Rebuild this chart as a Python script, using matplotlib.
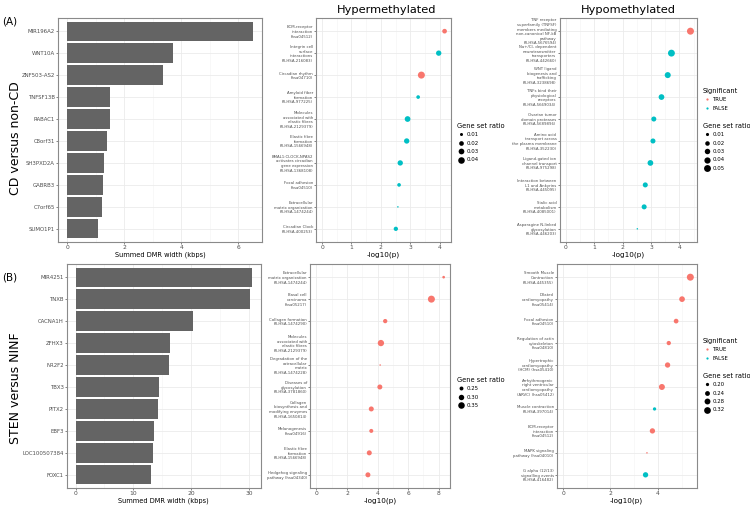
import numpy as np
import matplotlib
matplotlib.use("Agg")
import matplotlib.pyplot as plt
from matplotlib.lines import Line2D
from matplotlib.ticker import MultipleLocator

RED = "#F8766D"
CYAN = "#00BFC4"
BAR = "#646464"
GRID = "#EBEBEB"
TXT = "#4D4D4D"

W, H = 750, 505

# ---------------- (A) CD versus non-CD ----------------
cd_genes = ["MIR196A2", "WNT10A", "ZNF503-AS2", "TNFSF13B", "RABAC1",
            "C8orf31", "SH3PXD2A", "GABRB3", "C7orf65", "SUMO1P1"]
cd_width = [6.50, 3.70, 3.37, 1.51, 1.50, 1.38, 1.28, 1.26, 1.21, 1.08]

cd_hyper_terms = [
    "ECM-receptor\ninteraction\n(hsa04512)",
    "Integrin cell\nsurface\ninteractions\n(R-HSA-216083)",
    "Circadian rhythm\n(hsa04710)",
    "Amyloid fiber\nformation\n(R-HSA-977225)",
    "Molecules\nassociated with\nelastic fibres\n(R-HSA-2129379)",
    "Elastic fibre\nformation\n(R-HSA-1566948)",
    "BMAL1:CLOCK,NPAS2\nactivates circadian\ngene expression\n(R-HSA-1368108)",
    "Focal adhesion\n(hsa04510)",
    "Extracellular\nmatrix organization\n(R-HSA-1474244)",
    "Circadian Clock\n(R-HSA-400253)",
]
cd_hyper_logp = [4.17, 3.97, 3.38, 3.27, 2.91, 2.88, 2.66, 2.62, 2.58, 2.51]
cd_hyper_ratio = [0.020, 0.026, 0.046, 0.013, 0.030, 0.026, 0.026, 0.013, 0.007, 0.017]
cd_hyper_sig = [True, False, True, False, False, False, False, False, False, False]
cd_hyper_breaks = [0.01, 0.02, 0.03, 0.04]

cd_hypo_terms = [
    "TNF receptor\nsuperfamily (TNFSF)\nmembers mediating\nnon-canonical NF-kB\npathway\n(R-HSA-5676594)",
    "Na+/Cl- dependent\nneurotransmitter\ntransporters\n(R-HSA-442660)",
    "WNT ligand\nbiogenesis and\ntrafficking\n(R-HSA-3238698)",
    "TNFs bind their\nphysiological\nreceptors\n(R-HSA-5669034)",
    "Ovarian tumor\ndomain proteases\n(R-HSA-5689896)",
    "Amino acid\ntransport across\nthe plasma membrane\n(R-HSA-352230)",
    "Ligand-gated ion\nchannel transport\n(R-HSA-975298)",
    "Interaction between\nL1 and Ankyrins\n(R-HSA-445095)",
    "Sialic acid\nmetabolism\n(R-HSA-4085001)",
    "Asparagine N-linked\nglycosylation\n(R-HSA-446203)",
]
cd_hypo_logp = [4.39, 3.72, 3.59, 3.37, 3.10, 3.07, 2.98, 2.80, 2.76, 2.52]
cd_hypo_ratio = [0.052, 0.050, 0.037, 0.033, 0.025, 0.025, 0.033, 0.025, 0.025, 0.006]
cd_hypo_sig = [True, False, False, False, False, False, False, False, False, False]
cd_hypo_breaks = [0.01, 0.02, 0.03, 0.04, 0.05]

# ---------------- (B) STEN versus NINF ----------------
sten_genes = ["MIR4251", "TNXB", "CACNA1H", "ZFHX3", "NR2F2",
              "TBX3", "PITX2", "EBF3", "LOC100507384", "FOXC1"]
sten_width = [30.57, 30.17, 20.34, 16.30, 16.09, 14.43, 14.25, 13.50, 13.45, 13.10]

sten_hyper_terms = [
    "Extracellular\nmatrix organization\n(R-HSA-1474244)",
    "Basal cell\ncarcinoma\n(hsa05217)",
    "Collagen formation\n(R-HSA-1474290)",
    "Molecules\nassociated with\nelastic fibres\n(R-HSA-2129379)",
    "Degradation of the\nextracellular\nmatrix\n(R-HSA-1474228)",
    "Diseases of\nglycosylation\n(R-HSA-3781860)",
    "Collagen\nbiosynthesis and\nmodifying enzymes\n(R-HSA-1650814)",
    "Melanogenesis\n(hsa04916)",
    "Elastic fibre\nformation\n(R-HSA-1566948)",
    "Hedgehog signaling\npathway (hsa04340)",
]
sten_hyper_logp = [8.32, 7.52, 4.50, 4.22, 4.17, 4.15, 3.59, 3.59, 3.46, 3.37]
sten_hyper_ratio = [0.227, 0.375, 0.260, 0.338, 0.220, 0.283, 0.283, 0.252, 0.283, 0.283]
sten_hyper_sig = [True] * 10
sten_hyper_breaks = [0.25, 0.30, 0.35]

sten_hypo_terms = [
    "Smooth Muscle\nContraction\n(R-HSA-445355)",
    "Dilated\ncardiomyopathy\n(hsa05414)",
    "Focal adhesion\n(hsa04510)",
    "Regulation of actin\ncytoskeleton\n(hsa04810)",
    "Hypertrophic\ncardiomyopathy\n(HCM) (hsa05410)",
    "Arrhythmogenic\nright ventricular\ncardiomyopathy\n(ARVC) (hsa05412)",
    "Muscle contraction\n(R-HSA-397014)",
    "ECM-receptor\ninteraction\n(hsa04512)",
    "MAPK signaling\npathway (hsa04010)",
    "G alpha (12/13)\nsignalling events\n(R-HSA-416482)",
]
sten_hypo_logp = [5.37, 5.02, 4.77, 4.46, 4.41, 4.17, 3.86, 3.77, 3.54, 3.48]
sten_hypo_ratio = [0.335, 0.272, 0.236, 0.224, 0.257, 0.285, 0.201, 0.257, 0.185, 0.257]
sten_hypo_sig = [True, True, True, True, True, True, False, True, True, False]
sten_hypo_breaks = [0.20, 0.24, 0.28, 0.32]


def box(l, t, r, b):
    return [l / W, 1 - b / H, (r - l) / W, (b - t) / H]


def diam_pt(r, lo, hi):
    t = (np.asarray(r, dtype=float) - lo) / (hi - lo)
    t = np.clip(t, 0, 1)
    return (1.5 + 5.5 * np.sqrt(t)) * 0.72


def style(ax, major, minor):
    ax.set_facecolor("white")
    for s in ax.spines.values():
        s.set_color("#8a8a8a")
        s.set_linewidth(0.8)
    ax.xaxis.set_major_locator(MultipleLocator(major))
    ax.xaxis.set_minor_locator(MultipleLocator(minor))
    ax.grid(True, axis="x", which="major", color=GRID, lw=0.6)
    ax.grid(True, axis="x", which="minor", color="#F3F3F3", lw=0.4)
    ax.grid(True, axis="y", which="major", color=GRID, lw=0.6)
    ax.set_axisbelow(True)
    ax.tick_params(axis="both", which="major", length=1.2, width=0.5,
                   color="#555555", labelcolor=TXT, pad=1)
    ax.tick_params(axis="x", labelsize=4.3)
    ax.tick_params(axis="both", which="minor", length=0)


def bar_panel(rect, genes, width, major, minor):
    ax = fig.add_axes(box(*rect))
    n = len(genes)
    ax.barh(genes, width, height=0.88, color=BAR)
    ax.set_ylim(n - 0.4, -0.6)
    ax.set_xlim(-0.05 * max(width), 1.05 * max(width))
    style(ax, major, minor)
    ax.tick_params(axis="y", labelsize=3.9)
    ax.set_xlabel("Summed DMR width (kbps)", fontsize=4.8, labelpad=1.2)
    return ax


def dot_panel(rect, terms, logp, ratio, sig, major, minor):
    ax = fig.add_axes(box(*rect))
    n = len(terms)
    lo, hi = min(ratio), max(ratio)
    d = diam_pt(ratio, lo, hi)
    cols = [RED if s else CYAN for s in sig]
    ax.scatter(logp, terms, s=d ** 2, c=cols, linewidths=0, zorder=3)
    ax.set_ylim(n - 0.4, -0.6)
    ax.set_xlim(-0.05 * max(logp), 1.05 * max(logp))
    style(ax, major, minor)
    ax.tick_params(axis="y", labelsize=2.8, pad=1)
    ax.set_xlabel("-log10(p)", fontsize=5.2, labelpad=0.8)
    return ax, lo, hi


def legends(x, y_sig, y_size, lo, hi, breaks):
    common = dict(loc="upper left", frameon=False, fontsize=3.9,
                  title_fontsize=4.8, alignment="left", handlelength=1.6,
                  handletextpad=0.1, borderpad=0, borderaxespad=0,
                  labelspacing=0.62)
    if y_sig is not None:
        hs = [Line2D([], [], ls="none", marker="o", ms=1.6, mew=0, color=c)
              for c in (RED, CYAN)]
        fig.legend(hs, ["TRUE", "FALSE"], title="Significant",
                   bbox_to_anchor=(x / W, 1 - y_sig / H), **common)
    hz = [Line2D([], [], ls="none", marker="o", ms=float(diam_pt(b, lo, hi)),
                 mew=0, color="black") for b in breaks]
    fig.legend(hz, [f"{b:.2f}" for b in breaks], title="Gene set ratio",
               bbox_to_anchor=(x / W, 1 - y_size / H), **common)


fig = plt.figure(figsize=(7.5, 5.05), dpi=100)

# row A
bar_panel((58, 18, 262, 242), cd_genes, cd_width, 2, 1)
ax, lo, hi = dot_panel((316, 18, 450.7, 242), cd_hyper_terms, cd_hyper_logp,
                       cd_hyper_ratio, cd_hyper_sig, 1, 0.5)
legends(457, None, 123, lo, hi, cd_hyper_breaks)
ax, lo, hi = dot_panel((559.5, 18, 696.7, 242), cd_hypo_terms, cd_hypo_logp,
                       cd_hypo_ratio, cd_hypo_sig, 1, 0.5)
legends(703, 88, 123, lo, hi, cd_hypo_breaks)

# row B
bar_panel((66.7, 264, 261, 488), sten_genes, sten_width, 10, 5)
ax, lo, hi = dot_panel((310, 264, 450, 488), sten_hyper_terms, sten_hyper_logp,
                       sten_hyper_ratio, sten_hyper_sig, 2, 1)
legends(457, None, 377, lo, hi, sten_hyper_breaks)
ax, lo, hi = dot_panel((556.7, 264, 696.7, 488), sten_hypo_terms, sten_hypo_logp,
                       sten_hypo_ratio, sten_hypo_sig, 2, 1)
legends(703, 338, 373, lo, hi, sten_hypo_breaks)

fig.text(387 / W, 1 - 10 / H, "Hypermethylated", fontsize=8.2,
         ha="center", va="center")
fig.text(628 / W, 1 - 10 / H, "Hypomethylated", fontsize=8.2,
         ha="center", va="center")
fig.text(2 / W, 1 - 22 / H, "(A)", fontsize=7.5, ha="left", va="center")
fig.text(2 / W, 1 - 277 / H, "(B)", fontsize=7.5, ha="left", va="center")
fig.text(16 / W, 1 - 138 / H, "CD versus non-CD", fontsize=9, rotation=90,
         ha="center", va="center")
fig.text(16 / W, 1 - 388 / H, "STEN versus NINF", fontsize=9, rotation=90,
         ha="center", va="center")

fig.savefig("out.png", dpi=100, facecolor="white")
